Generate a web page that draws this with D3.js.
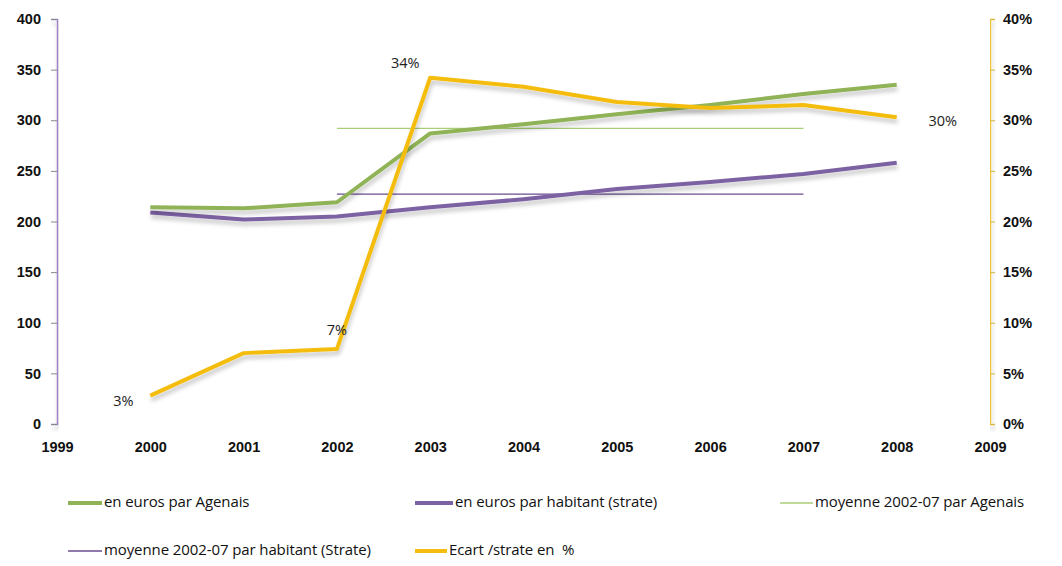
<!DOCTYPE html>
<html>
<head>
<meta charset="utf-8">
<script src="https://cdn.jsdelivr.net/npm/d3@7"></script>
<style>
  body { margin: 0; background: #fff; }
  svg { font-family: "Open Sans", Lato, sans-serif; }
  .tick text { font-size: 14.5px; fill: #111; }
  .legend text { font-size: 15px; fill: #111; letter-spacing: -0.1px; }
  .pct-label { font-size: 14.5px; fill: #222; }
</style>
</head>
<body>
<div id="chart"></div>
<script>
const years = [2000, 2001, 2002, 2003, 2004, 2005, 2006, 2007, 2008];
const agenais = [214, 213, 219, 287, 296, 306, 315, 326, 335];
const strate = [209, 202, 205, 214, 222, 232, 239, 247, 258];
const ecart = [0.028, 0.070, 0.074, 0.342, 0.333, 0.318, 0.312, 0.315, 0.303];
const avgYears = [2002, 2007];
const avgAgenais = 292;
const avgStrate = 227;
const leftTicks = [0, 50, 100, 150, 200, 250, 300, 350, 400];
const rightTicks = [0, 0.05, 0.10, 0.15, 0.20, 0.25, 0.30, 0.35, 0.40];
const xTicks = [1999, 2000, 2001, 2002, 2003, 2004, 2005, 2006, 2007, 2008, 2009];
const labelled = [2000, 2002, 2003, 2008];

const width = 1062, height = 566;
const colors = {
  green: '#8fb356',
  purple: '#7d62a3',
  yellow: '#f4bd0f',
  avgGreen: '#a9cd78',
  avgPurple: '#6b4d8f'
};

const svg = d3.select('#chart').append('svg')
  .attr('width', width).attr('height', height);

const defs = svg.append('defs');
const shadow = defs.append('filter').attr('id', 'shadow')
  .attr('x', '-10%').attr('y', '-50%').attr('width', '120%').attr('height', '200%');
shadow.append('feDropShadow')
  .attr('dx', 1).attr('dy', 4).attr('stdDeviation', 2)
  .attr('flood-color', '#000').attr('flood-opacity', 0.22);

const x = d3.scaleLinear().domain([1999, 2009]).range([57, 990]);
const yLeft = d3.scaleLinear().domain([0, 400]).range([424, 19]);
const yRight = d3.scaleLinear().domain([0, 0.4]).range([424, 19]);

// axes
const leftAxis = svg.append('g')
  .attr('transform', `translate(${x.range()[0]},0)`)
  .call(d3.axisLeft(yLeft).tickValues(leftTicks).tickSize(6).tickPadding(10));
leftAxis.select('.domain').attr('stroke', '#9d82c4').attr('stroke-width', 1.5)
  .attr('filter', 'url(#shadow)');
leftAxis.selectAll('.tick line').attr('stroke', '#888');

const rightAxis = svg.append('g')
  .attr('transform', `translate(${x.range()[1]},0)`)
  .call(d3.axisRight(yRight).tickValues(rightTicks).tickSize(5).tickPadding(8)
    .tickFormat(d3.format('.0%')));
rightAxis.select('.domain').attr('stroke', '#eec53a').attr('stroke-width', 1.5)
  .attr('filter', 'url(#shadow)');
rightAxis.selectAll('.tick line').attr('stroke', '#d9b640');

const bottomAxis = svg.append('g')
  .attr('transform', `translate(0,${yLeft(0)})`)
  .call(d3.axisBottom(x).tickValues(xTicks).tickSize(0).tickPadding(18)
    .tickFormat(d3.format('d')));
bottomAxis.select('.domain').remove();

svg.selectAll('.tick text').attr('font-weight', 600);

// average lines
const avgLine = (val) => avgYears.map(yr => [x(yr), yLeft(val)]);
svg.append('path').attr('d', d3.line()(avgLine(avgAgenais)))
  .attr('fill', 'none').attr('stroke', colors.avgGreen).attr('stroke-width', 1.3);
svg.append('path').attr('d', d3.line()(avgLine(avgStrate)))
  .attr('fill', 'none').attr('stroke', colors.avgPurple).attr('stroke-width', 1.3);

// series lines
const lineLeft = d3.line().x((d, i) => x(years[i])).y(d => yLeft(d));
const lineRight = d3.line().x((d, i) => x(years[i])).y(d => yRight(d));

svg.append('path').datum(strate).attr('d', lineLeft)
  .attr('fill', 'none').attr('stroke', colors.purple).attr('stroke-width', 4)
  .attr('stroke-linejoin', 'round').attr('filter', 'url(#shadow)');
svg.append('path').datum(agenais).attr('d', lineLeft)
  .attr('fill', 'none').attr('stroke', colors.green).attr('stroke-width', 4)
  .attr('stroke-linejoin', 'round').attr('filter', 'url(#shadow)');
svg.append('path').datum(ecart).attr('d', lineRight)
  .attr('fill', 'none').attr('stroke', colors.yellow).attr('stroke-width', 4)
  .attr('stroke-linejoin', 'round').attr('filter', 'url(#shadow)');

// data labels
const labelOffset = {
  2000: [-27, 6],
  2002: [0, -18],
  2003: [-25, -14],
  2008: [46, 5]
};
svg.selectAll('.pct-label')
  .data(labelled)
  .join('text')
  .attr('class', 'pct-label')
  .attr('x', yr => x(yr) + labelOffset[yr][0])
  .attr('y', yr => yRight(ecart[years.indexOf(yr)]) + labelOffset[yr][1])
  .attr('text-anchor', 'middle')
  .attr('dominant-baseline', 'middle')
  .text(yr => d3.format('.0%')(ecart[years.indexOf(yr)]));

// legend
const legendItems = [
  { name: 'en euros par Agenais', color: colors.green, w: 4, lx: 68, ly: 503, tx: 104 },
  { name: 'en euros par habitant (strate)', color: colors.purple, w: 4, lx: 415, ly: 503, tx: 455 },
  { name: 'moyenne 2002-07 par Agenais', color: colors.avgGreen, w: 1.3, lx: 780, ly: 503, tx: 815 },
  { name: 'moyenne 2002-07 par habitant (Strate)', color: colors.avgPurple, w: 1.3, lx: 68, ly: 551, tx: 104 },
  { name: 'Ecart /strate en  %', color: colors.yellow, w: 4, lx: 415, ly: 551, tx: 449 }
];
const legend = svg.append('g').attr('class', 'legend');
const item = legend.selectAll('g').data(legendItems).join('g');
item.append('line')
  .attr('x1', d => d.lx).attr('x2', d => d.tx - 2)
  .attr('y1', d => d.ly).attr('y2', d => d.ly)
  .attr('stroke', d => d.color).attr('stroke-width', d => d.w);
item.append('text')
  .attr('x', d => d.tx).attr('y', d => d.ly)
  .attr('dominant-baseline', 'middle')
  .style('white-space', 'pre')
  .text(d => d.name);
</script>
</body>
</html>
